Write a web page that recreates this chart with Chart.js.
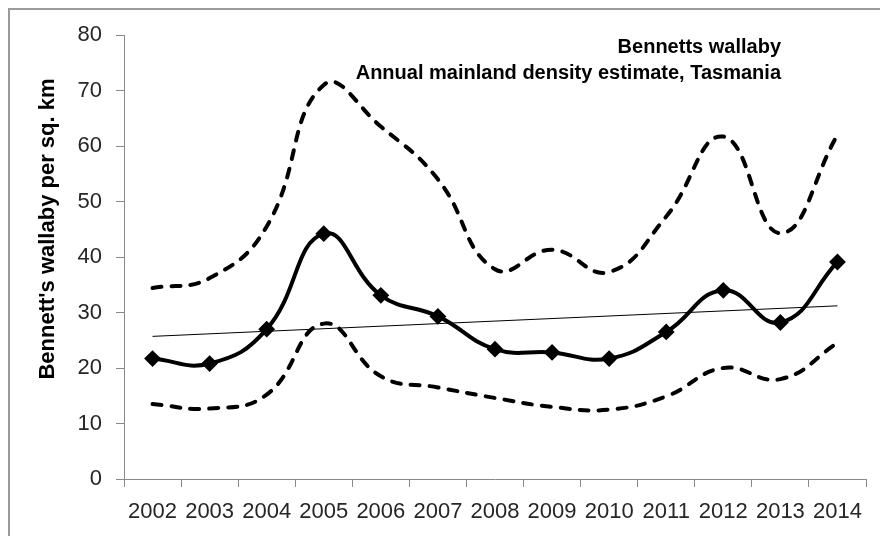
<!DOCTYPE html>
<html>
<head>
<meta charset="utf-8">
<script src="https://cdn.jsdelivr.net/npm/chart.js@4/dist/chart.umd.min.js"></script>
<style>
  html, body { margin: 0; padding: 0; background: #fff; }
  #wrap { width: 880px; height: 536px; position: relative; }
</style>
</head>
<body>
<div id="wrap"><canvas id="c" width="880" height="536"></canvas></div>
<script>
const years = ['2002','2003','2004','2005','2006','2007','2008','2009','2010','2011','2012','2013','2014'];
const density = [21.7, 20.8, 27.0, 44.2, 33.1, 29.3, 23.4, 22.8, 21.7, 26.5, 34.0, 28.2, 39.1];
const upper95 = [34.4, 36.2, 45.5, 71.0, 63.5, 54.0, 37.8, 41.3, 37.3, 47.3, 61.7, 44.3, 62.0];
const lower95 = [13.5, 12.7, 15.2, 28.0, 18.5, 16.5, 14.6, 13.0, 12.5, 14.9, 20.0, 18.0, 24.5];
const trendEnds = [25.7, 31.2];
const trend = years.map((_, i) => i === 0 ? trendEnds[0] : (i === years.length - 1 ? trendEnds[1] : null));
const titleLines = ['Bennetts wallaby', 'Annual mainland density estimate, Tasmania'];
const yTitle = "Bennett's wallaby per sq. km";

const FONT = "'Liberation Sans', Arial, sans-serif";

const decor = {
  id: 'decor',
  afterDraw(chart) {
    const ctx = chart.ctx;
    ctx.save();
    ctx.strokeStyle = '#9a9a9a';
    ctx.lineWidth = 2;
    ctx.strokeRect(9, 9, 1000, 1000);
    ctx.fillStyle = '#000';
    ctx.font = 'bold 20px ' + FONT;
    ctx.textAlign = 'right';
    ctx.textBaseline = 'alphabetic';
    ctx.fillText(titleLines[0], 781, 53);
    ctx.fillText(titleLines[1], 781, 79);
    // y-axis title (placed like the original, slightly above the axis centre)
    ctx.translate(48, 229);
    ctx.rotate(-Math.PI / 2);
    ctx.font = 'bold 22px ' + FONT;
    ctx.textAlign = 'center';
    ctx.textBaseline = 'middle';
    ctx.fillText(yTitle, 0, 0);
    ctx.restore();
  }
};

new Chart(document.getElementById('c'), {
  type: 'line',
  data: {
    labels: years,
    datasets: [
      { label: 'Upper', data: upper95, borderColor: '#000', borderWidth: 4, borderDash: [9, 10], borderCapStyle: 'round',
        pointRadius: 0, tension: 0.45, fill: false },
      { label: 'Lower', data: lower95, borderColor: '#000', borderWidth: 4, borderDash: [9, 10], borderCapStyle: 'round',
        pointRadius: 0, tension: 0.45, fill: false },
      { label: 'Trend', data: trend, borderColor: '#000', borderWidth: 1, pointRadius: 0, tension: 0, spanGaps: true, fill: false },
      { label: 'Density', data: density, borderColor: '#000', borderWidth: 4, tension: 0.45,
        pointStyle: 'rectRot', pointRadius: 7, pointBorderWidth: 2, pointBackgroundColor: '#000', pointBorderColor: '#000', fill: false }
    ]
  },
  options: {
    responsive: false,
    animation: false,
    devicePixelRatio: 1,
    layout: { padding: { top: 35, right: 14, left: 0, bottom: 0 } },
    plugins: { legend: { display: false }, tooltip: { enabled: false }, title: { display: false } },
    scales: {
      x: {
        offset: true,
        grid: { offset: true, drawOnChartArea: false, drawTicks: true, tickLength: 8, color: '#8a8a8a' },
        border: { color: '#8a8a8a', width: 1 },
        ticks: { color: '#262626', font: { family: FONT, size: 22 }, padding: 12, maxRotation: 0, autoSkip: false },
        afterFit(s) { s.height = 57; }
      },
      y: {
        min: 0, max: 80,
        grid: { drawOnChartArea: false, drawTicks: true, tickLength: 8, color: '#8a8a8a' },
        border: { color: '#8a8a8a', width: 1 },
        ticks: { stepSize: 10, color: '#262626', font: { family: FONT, size: 22 }, padding: 14 },
        afterFit(s) { s.width = 124; }
      }
    }
  },
  plugins: [decor]
});
</script>
</body>
</html>
